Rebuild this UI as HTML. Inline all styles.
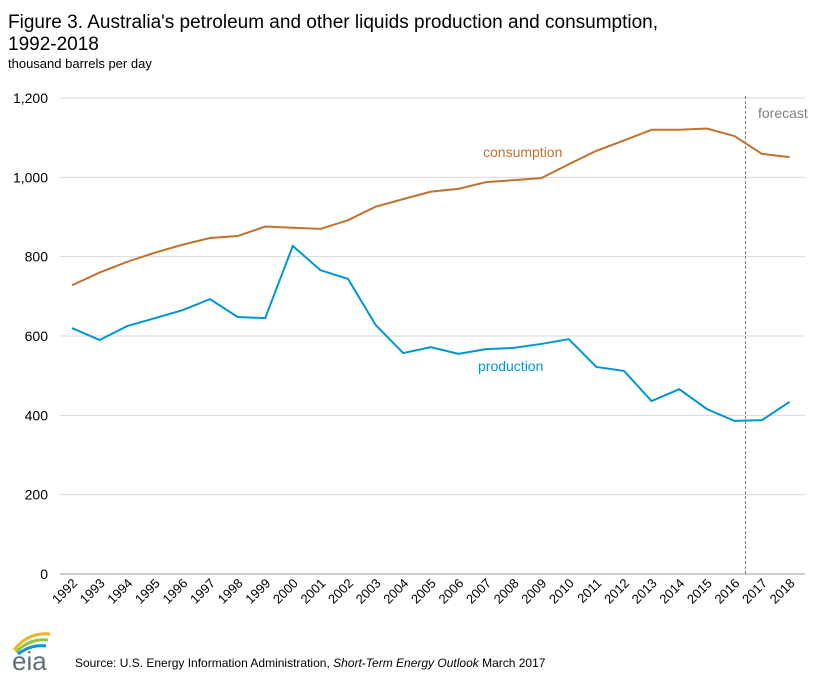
<!DOCTYPE html>
<html><head><meta charset="utf-8"><style>
body{margin:0;background:#fff;font-family:"Liberation Sans",Arial,sans-serif;}
svg text{font-family:"Liberation Sans",Arial,sans-serif;}
</style></head><body>
<svg id="c" width="820" height="674" xmlns="http://www.w3.org/2000/svg">
<text x="8" y="28" font-size="19" fill="#000">Figure 3. Australia's petroleum and other liquids production and consumption,</text>
<text x="8" y="50" font-size="19" fill="#000">1992-2018</text>
<text x="8" y="68" font-size="13" fill="#000">thousand barrels per day</text>
<g id="grid"></g><g id="marks"></g>
<text x="758" y="118" font-size="14" fill="#808080">forecast</text>
<text x="483" y="157" font-size="14" fill="#C0722D">consumption</text>
<text x="478" y="371" font-size="14" fill="#0096D6">production</text>
<g>
<path d="M14 650 Q28 632 50 634" stroke="#F0B323" stroke-width="3" fill="none"/>
<path d="M16 652 Q30 638 48 640" stroke="#8DC63F" stroke-width="3" fill="none"/>
<path d="M18 654 Q32 644 46 646" stroke="#0096D6" stroke-width="3" fill="none"/>
<text x="12" y="670" font-size="26" fill="#5a6f7a">eia</text>
</g>
<text x="75" y="667" font-size="12" fill="#000">Source: U.S. Energy Information Administration, <tspan font-style="italic">Short-Term Energy Outlook</tspan> March 2017</text>
</svg>
<script>
const years=[1992,1993,1994,1995,1996,1997,1998,1999,2000,2001,2002,2003,2004,2005,2006,2007,2008,2009,2010,2011,2012,2013,2014,2015,2016,2017,2018];
const consumption=[728,760,787,810,830,847,852,876,873,870,892,926,945,964,971,988,993,998,1033,1067,1093,1120,1120,1123,1104,1059,1051];
const production=[620,590,625,645,665,693,648,645,827,766,744,628,557,572,555,567,570,580,592,522,512,436,466,416,386,388,434];
const yTicks=[0,200,400,600,800,1000,1200];
const forecastStart=2016.4;
const NS="http://www.w3.org/2000/svg";
const x=v=>72+(v-1992)*27.6;
const y=v=>574-v*(476/1200);
const grid=document.getElementById('grid'),marks=document.getElementById('marks');
function mk(t,a,p){const e=document.createElementNS(NS,t);for(const k in a)e.setAttribute(k,a[k]);p.appendChild(e);return e;}
yTicks.forEach(t=>{
 const l=mk('line',{x1:60,x2:805,y1:y(t),y2:y(t),stroke:t===0?'#999':'#d9d9d9','stroke-width':1},grid);
 
 
 const tx=mk('text',{x:48,y:y(t)+5,'font-size':14,'text-anchor':'end',fill:'#000'},grid);
 tx.textContent=t.toLocaleString('en-US');
 
 
});
years.forEach(yr=>{
 const tx=mk('text',{x:x(yr)+6,y:584,'font-size':13,'text-anchor':'end',fill:'#000',transform:`rotate(-45 ${x(yr)+6} 584)`},grid);
 tx.textContent=yr;
 
 
});
const fl=mk('line',{x1:x(forecastStart),x2:x(forecastStart),y1:96,y2:574,stroke:'#808080','stroke-dasharray':'3,2','stroke-width':1},marks);


function series(vals,col,name){
 const p=mk('polyline',{points:vals.map((v,i)=>x(years[i])+','+y(v)).join(' '),fill:'none',stroke:col,'stroke-width':2},marks);
 
 
}
series(consumption,'#C0722D','consumption-line');
series(production,'#0096D6','production-line');
</script>
</body></html>
